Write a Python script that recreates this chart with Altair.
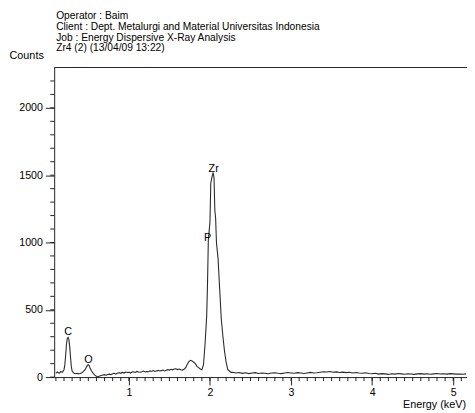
import altair as alt
import pandas as pd

# ---- data ----
energy = [0.10, 0.12, 0.14, 0.16, 0.18, 0.20, 0.21, 0.22, 0.23, 0.24, 0.25, 0.26, 0.27, 0.28, 0.29,
          0.30, 0.32, 0.34, 0.36, 0.38, 0.40, 0.42, 0.44, 0.46, 0.48, 0.49, 0.50, 0.51, 0.52, 0.54,
          0.56, 0.58, 0.60, 0.62, 0.64, 0.66, 0.68, 0.70, 0.72, 0.74, 0.76, 0.78, 0.80, 0.82, 0.84,
          0.86, 0.88, 0.90, 0.92, 0.94, 0.96, 0.98, 1.00, 1.02, 1.04, 1.06, 1.08, 1.10, 1.12, 1.14,
          1.16, 1.18, 1.20, 1.22, 1.24, 1.26, 1.28, 1.30, 1.32, 1.34, 1.36, 1.38, 1.40, 1.42, 1.44,
          1.46, 1.48, 1.50, 1.52, 1.54, 1.56, 1.58, 1.60, 1.62, 1.64, 1.66, 1.68, 1.70, 1.72, 1.74,
          1.76, 1.78, 1.80, 1.82, 1.84, 1.86, 1.88, 1.90, 1.92, 1.94, 1.96, 1.97, 1.98, 2.00, 2.01,
          2.02, 2.03, 2.04, 2.05, 2.06, 2.07, 2.08, 2.10, 2.12, 2.14, 2.16, 2.18, 2.20, 2.22, 2.24,
          2.26, 2.28, 2.32, 2.36, 2.40, 2.44, 2.48, 2.52, 2.56, 2.60, 2.64, 2.68, 2.72, 2.76, 2.80,
          2.84, 2.88, 2.92, 2.96, 3.00, 3.04, 3.08, 3.12, 3.16, 3.20, 3.24, 3.28, 3.32, 3.36, 3.40,
          3.44, 3.48, 3.52, 3.56, 3.60, 3.64, 3.68, 3.72, 3.76, 3.80, 3.84, 3.88, 3.92, 3.96, 4.00,
          4.04, 4.08, 4.12, 4.16, 4.20, 4.24, 4.28, 4.32, 4.36, 4.40, 4.44, 4.48, 4.52, 4.56, 4.60,
          4.64, 4.68, 4.72, 4.76, 4.80, 4.84, 4.88, 4.92, 4.96, 5.00, 5.04, 5.08, 5.12, 5.16]
counts = [30, 38, 28, 42, 35, 55, 90, 160, 240, 285, 295, 280, 230, 150, 80,
          45, 30, 25, 28, 24, 26, 32, 42, 55, 78, 88, 92, 85, 70, 45,
          28, 14, 6, 3, 8, 12, 15, 18, 14, 20, 22, 18, 25, 28, 22,
          30, 32, 28, 35, 30, 38, 34, 36, 30, 38, 40, 35, 42, 38, 36,
          40, 45, 38, 42, 40, 45, 44, 48, 42, 46, 50, 45, 48, 52, 46,
          50, 55, 52, 58, 54, 60, 62, 56, 60, 55, 52, 58, 70, 95, 115,
          125, 120, 110, 100, 80, 70, 60, 55, 90, 250, 460, 700, 1020, 1150, 1440,
          1470, 1500, 1520, 1480, 1240, 1180, 1000, 880, 650, 430, 300, 190, 110, 55, 45,
          35, 36, 30, 34, 28, 32, 26, 30, 33, 27, 31, 29, 25, 30, 32,
          28, 26, 30, 34, 31, 28, 33, 30, 27, 31, 35, 30, 32, 36, 40,
          38, 42, 36, 39, 34, 37, 33, 36, 31, 34, 30, 28, 32, 27, 25,
          28, 22, 26, 24, 20, 25, 22, 27, 24, 21, 25, 23, 20, 24, 26,
          22, 25, 21, 24, 27, 23, 25, 22, 26, 24, 22, 23, 21, 24]

peak_labels = ["C", "O", "Zr", "P"]
peak_energy = [0.252, 0.503, 2.046, 1.972]
peak_counts = [332, 130, 1542, 1031]

header_lines = ["Operator : Baim",
                "Client : Dept. Metalurgi and Material Universitas Indonesia",
                "Job : Energy Dispersive X-Ray Analysis",
                "Zr4 (2) (13/04/09 13:22)"]

x_major = [1, 2, 3, 4, 5]
y_major = [0, 500, 1000, 1500, 2000]
x_minor = [round(0.1 * i, 1) for i in range(1, 52)]
y_minor = list(range(0, 2300, 100))

x_domain = [0.079, 5.17]
y_domain = [0, 2300]

W, H = 420, 315
FONT = "Liberation Sans"
FS = 10.8
HFS = 10.4

spec = pd.DataFrame({"E": energy, "counts": counts})
peaks = pd.DataFrame({"label": peak_labels, "E": peak_energy, "counts": peak_counts})

xs = alt.Scale(domain=x_domain, nice=False, zero=False)
ys = alt.Scale(domain=y_domain, nice=False, zero=False)
x_axis = alt.Axis(values=x_major, format="d", title=None, tickSize=8, labelPadding=2, grid=False)
y_axis = alt.Axis(values=y_major, format="d", title=None, tickSize=9, labelPadding=3, grid=False)

line = alt.Chart(spec).mark_line(color="#2a2a2a", strokeWidth=1.1, interpolate="linear").encode(
    x=alt.X("E:Q", scale=xs, axis=x_axis),
    y=alt.Y("counts:Q", scale=ys, axis=y_axis),
)

minor_y = alt.Chart(pd.DataFrame({"counts": y_minor})).mark_rule(color="#222", strokeWidth=1).encode(
    y=alt.Y("counts:Q", scale=ys, axis=y_axis),
    x=alt.value(-4), x2=alt.value(0),
)
minor_x = alt.Chart(pd.DataFrame({"E": x_minor})).mark_rule(color="#222", strokeWidth=1).encode(
    x=alt.X("E:Q", scale=xs, axis=x_axis),
    y=alt.value(H), y2=alt.value(H + 4),
)
top_border = alt.Chart(pd.DataFrame({"a": [0]})).mark_rule(color="#222", strokeWidth=1).encode(
    x=alt.value(0), x2=alt.value(W), y=alt.value(0),
)

labels = alt.Chart(peaks).mark_text(font=FONT, fontSize=11, color="black", baseline="middle").encode(
    x=alt.X("E:Q", scale=xs, axis=x_axis),
    y=alt.Y("counts:Q", scale=ys, axis=y_axis),
    text="label:N",
)

header = alt.Chart(pd.DataFrame({"a": [0]})).mark_text(
    font=FONT, fontSize=HFS, color="black", align="left", baseline="top", lineHeight=10.8
).encode(x=alt.value(2), y=alt.value(-57), text=alt.value(header_lines))

counts_title = alt.Chart(pd.DataFrame({"a": [0]})).mark_text(
    font=FONT, fontSize=11, color="black", align="center", baseline="middle"
).encode(x=alt.value(-28), y=alt.value(-12), text=alt.value("Counts"))

energy_title = alt.Chart(pd.DataFrame({"a": [0]})).mark_text(
    font=FONT, fontSize=11, color="black", align="right", baseline="middle"
).encode(x=alt.value(W - 1), y=alt.value(H + 28.5), text=alt.value("Energy (keV)"))

chart = alt.layer(line, minor_y, minor_x, top_border, labels, header, counts_title, energy_title).properties(
    width=W, height=H,
    autosize=alt.AutoSizeParams(type="none"),
    padding={"left": 47, "top": 57, "right": 0, "bottom": 33},
    background="white",
).configure_view(stroke=None).configure_axis(
    domainColor="#222", tickColor="#222", labelColor="black", labelFont=FONT,
    labelFontSize=FS, domainWidth=1, tickWidth=1,
)

chart.save("out.html", embed_options={"renderer": "svg", "actions": False})
